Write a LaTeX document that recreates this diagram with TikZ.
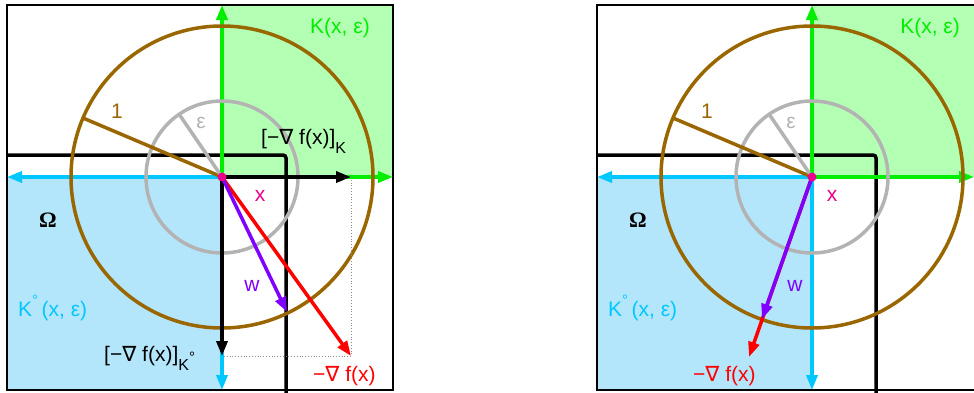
\documentclass[tikz,border=0pt]{standalone}
\usepackage{fontspec}
\setmainfont{Liberation Sans}
\newfontfamily\nablafont{DejaVu Sans}
\newfontfamily\omegafont{Liberation Serif}
\usetikzlibrary{arrows.meta}

\definecolor{kgreen}{HTML}{00EE00}
\definecolor{kgreenfill}{HTML}{B3FFB3}
\definecolor{kcyan}{HTML}{00C8FF}
\definecolor{kcyanfill}{HTML}{B3E6FA}
\definecolor{ballbrown}{HTML}{996600}
\definecolor{epsgray}{HTML}{B3B3B3}
\definecolor{wpurple}{HTML}{8000FF}

\newcommand{\subfont}{\fontsize{16}{16}\selectfont}
\newcommand{\degfont}{\fontsize{15}{15}\selectfont}
\newcommand{\gradtxt}{−{\nablafont ∇} f(x)}
\newcommand{\omegatxt}{{\omegafont\bfseries\fontsize{22}{22}\selectfont Ω}}

\begin{document}
\begin{tikzpicture}[
  x=1pt, y=-1pt,
  font=\fontsize{21}{25}\selectfont,
  axis/.style={line width=3.5pt, -{Triangle[length=15pt,width=11pt]}},
  vec/.style={line width=3.5pt, -{Triangle[length=15pt,width=11pt]}},
  ring/.style={line width=3.5pt},
  bound/.style={line width=3.5pt, rounded corners=3pt},
  guide/.style={draw=black!45, dotted, line width=0.8pt},
  lbl/.style={inner sep=0pt}
]
\useasboundingbox (0,0) rectangle (974,392);
\clip (0,0) rectangle (974,392);

% ---- left: projection onto K and K polar
\begin{scope}
\coordinate (Lx) at (222,177);
\coordinate (Ltop) at (222,5);
\coordinate (Lright) at (393,177);
\coordinate (Lleft) at (7,177);
\coordinate (Lbottom) at (222,390);
\coordinate (Lpk) at (351,177);
\coordinate (Lpko) at (222,356);
\coordinate (Lgrad) at (351,356);
\coordinate (Lw) at (287,312);
\coordinate (Lone) at (83,118);
\coordinate (Leps) at (179,114);
\fill[kgreenfill] (Lx) rectangle (393,5);
\fill[kcyanfill] (Lx) rectangle (7,390);
\draw[line width=1.8pt] (7,5) rectangle (393,390);
\draw[bound] (7,155) -- (286,155) -- (286,395);
\draw[axis, kgreen] (Lx) -- (Ltop);
\draw[axis, kgreen] (Lx) -- (Lright);
\draw[axis, kcyan] (Lx) -- (Lleft);
\draw[axis, kcyan] (Lx) -- (Lbottom);
\draw[ring, ballbrown] (Lx) circle[radius=151pt];
\draw[ring, epsgray] (Lx) circle[radius=76pt];
\draw[ring, ballbrown] (Lx) -- (Lone);
\draw[ring, epsgray] (Lx) -- (Leps);
\draw[guide] (Lpk) -- (Lgrad) -- (Lpko);
\draw[vec, black] (Lx) -- (Lpk);
\draw[vec, black] (Lx) -- (Lpko);
\draw[vec, red] (Lx) -- (Lgrad);
\draw[vec, wpurple] (Lx) -- (Lw);
\fill[magenta] (Lx) circle[radius=4.5pt];
\node[lbl, ballbrown] (Lonelbl) at (117,111) {1};
\node[lbl, epsgray] (Lepslbl) at (201,123) {ε};
\node[lbl, kgreen] (LKlbl) at (340,28) {K(x, ε)};
\node[lbl, anchor=base west] (LPKlbl) at (261,144) {[\gradtxt]\raisebox{-9pt}{\subfont K}};
\node[lbl, magenta] (Lxlbl) at (260,196) {x};
\node[lbl] (LOmega) at (48,220) {\omegatxt};
\node[lbl, wpurple] (Lwlbl) at (252,286) {w};
\node[lbl, kcyan, anchor=base west] (LKolbl) at (18,316) {K\raisebox{11pt}{\degfont °}\,(x, ε)};
\node[lbl, anchor=base west] (LPKolbl) at (104,361) {[\gradtxt]\raisebox{-9pt}{\subfont K\raisebox{8pt}{\degfont °}}};
\node[lbl, red, anchor=base west] (Lgradlbl) at (313,381) {\gradtxt};
\end{scope}

% ---- right: gradient already in K polar
\begin{scope}[xshift=590pt]
\coordinate (Rx) at (222,177);
\coordinate (Rtop) at (222,5);
\coordinate (Rright) at (384,177);
\coordinate (Rleft) at (7,177);
\coordinate (Rbottom) at (222,390);
\coordinate (Rgrad) at (159,357);
\coordinate (Rw) at (172,319);
\coordinate (Rone) at (83,118);
\coordinate (Reps) at (179,114);
\fill[kgreenfill] (Rx) rectangle (393,5);
\fill[kcyanfill] (Rx) rectangle (7,390);
\draw[line width=1.8pt] (7,5) rectangle (393,390);
\draw[bound] (7,155) -- (286,155) -- (286,395);
\draw[axis, kgreen] (Rx) -- (Rtop);
\draw[axis, kgreen] (Rx) -- (Rright);
\draw[axis, kcyan] (Rx) -- (Rleft);
\draw[axis, kcyan] (Rx) -- (Rbottom);
\draw[ring, ballbrown] (Rx) circle[radius=151pt];
\draw[ring, epsgray] (Rx) circle[radius=76pt];
\draw[ring, ballbrown] (Rx) -- (Rone);
\draw[ring, epsgray] (Rx) -- (Reps);
\draw[vec, red] (Rx) -- (Rgrad);
\draw[vec, wpurple] (Rx) -- (Rw);
\fill[magenta] (Rx) circle[radius=4.5pt];
\node[lbl, ballbrown] (Ronelbl) at (117,111) {1};
\node[lbl, epsgray] (Repslbl) at (201,123) {ε};
\node[lbl, kgreen] (RKlbl) at (340,28) {K(x, ε)};
\node[lbl, magenta] (Rxlbl) at (242,196) {x};
\node[lbl] (ROmega) at (48,220) {\omegatxt};
\node[lbl, wpurple] (Rwlbl) at (205,286) {w};
\node[lbl, kcyan, anchor=base west] (RKolbl) at (18,316) {K\raisebox{11pt}{\degfont °}\,(x, ε)};
\node[lbl, red, anchor=base west] (Rgradlbl) at (103,381) {\gradtxt};
\end{scope}
\end{tikzpicture}
\end{document}
